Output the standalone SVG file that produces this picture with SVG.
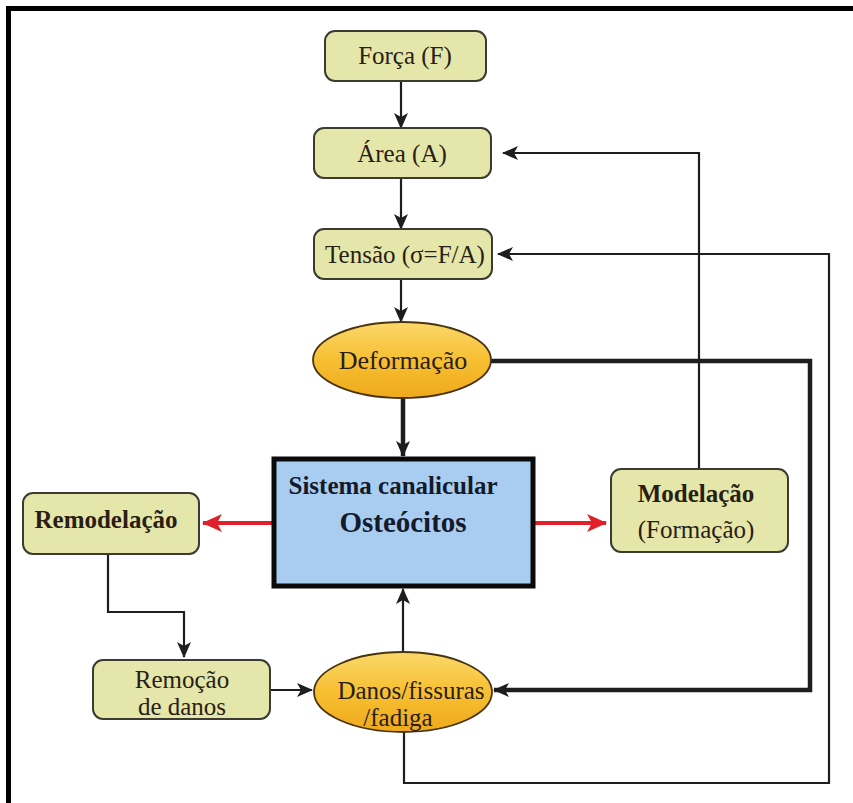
<svg xmlns="http://www.w3.org/2000/svg" width="853" height="803" viewBox="0 0 853 803">
<style>
.node rect.y{fill:#e4e7a9;stroke:#3b3b30;stroke-width:2}
.node ellipse{fill:url(#og);stroke:#4a3410;stroke-width:1.8}
text{font-family:"Liberation Serif","DejaVu Serif",serif;fill:#2a1d14;text-anchor:middle;font-size:25px}
.b{font-weight:bold}
.c path,.c line,.c polyline{fill:none;stroke:#1e1e1e}
.thin{stroke-width:2.2}
.thick{stroke-width:4.5}
.red{stroke:#e0202a !important;stroke-width:4}
</style>
<defs>
<linearGradient id="og" x1="0" y1="0" x2="0" y2="1">
<stop offset="0" stop-color="#fbd86a"/>
<stop offset="0.5" stop-color="#f7bf32"/>
<stop offset="1" stop-color="#efa91c"/>
</linearGradient>
<marker id="ah" viewBox="0 0 16 14" refX="15" refY="7" markerWidth="16" markerHeight="14" markerUnits="userSpaceOnUse" orient="auto">
<path d="M0,0 L16,7 L0,14 L4,7 z" fill="#1e1e1e"/>
</marker>
<marker id="ahr" viewBox="0 0 20 18" refX="19" refY="9" markerWidth="20" markerHeight="18" markerUnits="userSpaceOnUse" orient="auto">
<path d="M0,0 L20,9 L0,18 L5,9 z" fill="#e0202a"/>
</marker>
</defs>
<rect width="853" height="803" fill="#ffffff"/>
<g id="frame">
<path d="M8.5,803 L8.5,8.5 L853,8.5" fill="none" stroke="#000" stroke-width="5"/>
</g>
<g id="connectors" class="c">
<line class="thin" x1="401" y1="81" x2="401" y2="128" marker-end="url(#ah)"/>
<line class="thin" x1="401" y1="178" x2="401" y2="229" marker-end="url(#ah)"/>
<line class="thin" x1="401" y1="279" x2="401" y2="322" marker-end="url(#ah)"/>
<line class="thick" x1="403" y1="399" x2="403" y2="456" marker-end="url(#ah)"/>
<line class="thin" x1="403" y1="651" x2="403" y2="589" marker-end="url(#ah)"/>
<polyline class="thin" points="699,469 699,153 503,153" marker-end="url(#ah)"/>
<polyline class="thin" points="404,733 404,783 829,783 829,254 498,254" marker-end="url(#ah)"/>
<polyline class="thick" points="491,361 810,361 810,690 494,690" marker-end="url(#ah)"/>
<polyline class="thin" points="108,554 108,612 184,612 184,657" marker-end="url(#ah)"/>
<line class="thin" x1="271" y1="690" x2="312" y2="690" marker-end="url(#ah)"/>
<line class="red" x1="272" y1="523" x2="203" y2="523" marker-end="url(#ahr)"/>
<line class="red" x1="535" y1="523" x2="606" y2="523" marker-end="url(#ahr)"/>
</g>
<g id="forca" class="node">
<rect class="y" x="325" y="31" width="161" height="50" rx="10"/>
<text x="405" y="64">Força (F)</text>
</g>
<g id="area" class="node">
<rect class="y" x="314" y="128" width="177" height="50" rx="10"/>
<text x="402" y="162">Área (A)</text>
</g>
<g id="tensao" class="node">
<rect class="y" x="314" y="229" width="178" height="50" rx="10"/>
<text x="405" y="263">Tensão (σ=F/A)</text>
</g>
<g id="deformacao" class="node">
<ellipse cx="402" cy="360" rx="89" ry="38"/>
<text x="403" y="369" style="font-size:26px">Deformação</text>
</g>
<g id="sistema" class="node">
<rect x="274" y="459" width="259" height="127" fill="#a9cdf0" stroke="#0a0a0a" stroke-width="5"/>
<text x="393" y="494" class="b" style="fill:#141a2a">Sistema canalicular</text>
<text x="403" y="532" class="b" style="fill:#141a2a;font-size:29px">Osteócitos</text>
</g>
<g id="remodelacao" class="node">
<rect class="y" x="23" y="493" width="176" height="61" rx="10"/>
<text x="106" y="528" class="b">Remodelação</text>
</g>
<g id="modelacao" class="node">
<rect class="y" x="611" y="469" width="177" height="83" rx="10"/>
<text x="696" y="502" class="b">Modelação</text>
<text x="696" y="538">(Formação)</text>
</g>
<g id="remocao" class="node">
<rect class="y" x="93" y="660" width="177" height="59" rx="10"/>
<text x="182" y="688">Remoção</text>
<text x="182" y="715">de danos</text>
</g>
<g id="danos" class="node">
<ellipse cx="403" cy="692" rx="89" ry="40"/>
<text x="411" y="699">Danos/fissuras</text>
<text x="398" y="726">/fadiga</text>
</g>
</svg>
